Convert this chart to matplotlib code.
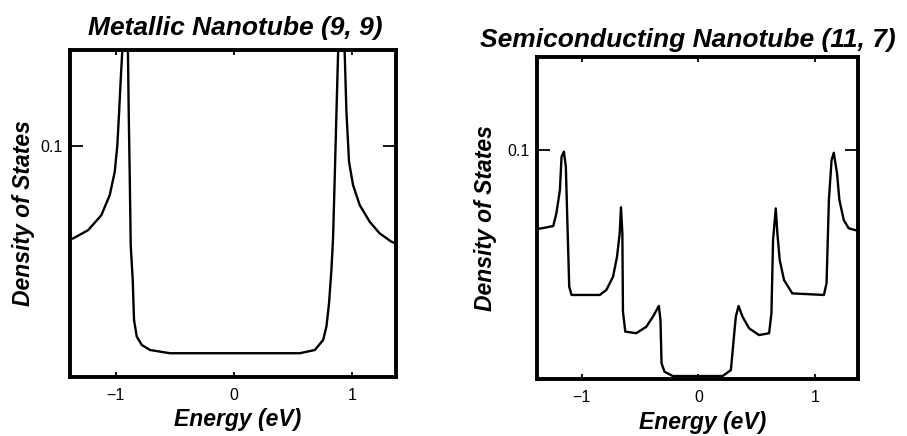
import matplotlib
matplotlib.use("Agg")
import matplotlib.pyplot as plt

# Density of states curves
metal_energy = [-1.385, -1.359, -1.232, -1.12, -1.049, -1.007, -0.985, -0.970, -0.956, -0.945,
                -0.92,
                -0.895, -0.889, -0.880, -0.872, -0.855, -0.844, -0.821, -0.779, -0.709, -0.54,
                0.557, 0.684, 0.754, 0.782, 0.804, 0.824, 0.838, 0.852, 0.867, 0.88,
                0.908,
                0.937, 0.951, 0.973, 1.007, 1.063, 1.148, 1.232, 1.331, 1.37]
metal_dos = [0.0597, 0.060, 0.0636, 0.0701, 0.0788, 0.0889, 0.1004, 0.1149, 0.1293, 0.1394,
             0.17,
             0.1394, 0.1149, 0.086, 0.0571, 0.042, 0.0247, 0.0175, 0.0139, 0.0117, 0.0103,
             0.0103, 0.0117, 0.016, 0.0218, 0.0319, 0.0463, 0.060, 0.086, 0.1149, 0.1394,
             0.17,
             0.1394, 0.1149, 0.0932, 0.0831, 0.0745, 0.0672, 0.0622, 0.0586, 0.0578]

semi_energy = [-1.385, -1.345, -1.245, -1.218, -1.188, -1.174, -1.154, -1.137, -1.126, -1.108,
               -1.088, -0.846, -0.789, -0.732, -0.698, -0.675, -0.664, -0.652, -0.647,
               -0.627, -0.533, -0.447, -0.39, -0.339, -0.325, -0.316, -0.291, -0.22,
               0.208, 0.279, 0.308, 0.322, 0.345, 0.379, 0.436, 0.521, 0.607, 0.627,
               0.641, 0.664, 0.678, 0.698, 0.735, 0.806, 1.077, 1.10, 1.12, 1.143,
               1.162, 1.19, 1.21, 1.248, 1.29, 1.348, 1.36]
semi_dos = [0.0655, 0.0658, 0.0668, 0.0724, 0.0825, 0.097, 0.0993, 0.0927, 0.0724, 0.0403,
            0.0367, 0.0367, 0.0389, 0.0447, 0.0534, 0.0636, 0.075, 0.0636, 0.0294,
            0.0207, 0.020, 0.0228, 0.0272, 0.0319, 0.0258, 0.0069, 0.0032, 0.0013,
            0.0013, 0.0039, 0.020, 0.0274, 0.0319, 0.0272, 0.0221, 0.0192, 0.020, 0.0287,
            0.0607, 0.0745, 0.0636, 0.052, 0.0432, 0.0374, 0.0367, 0.0418, 0.0782, 0.0956,
            0.0988, 0.0898, 0.0782, 0.0694, 0.0658, 0.065, 0.065]

xticks = [-1, 0, 1]
xtick_labels = ["\u22121", "0", "1"]
yticks = [0.1]
ytick_labels = ["0.1"]

titles = ["Metallic Nanotube (9, 9)", "Semiconducting Nanotube (11, 7)"]

plt.rcParams['font.family'] = ['Liberation Sans', 'DejaVu Sans']

fig = plt.figure(figsize=(9.07, 4.36), dpi=100)
ax1 = fig.add_axes([0.0772, 0.1353, 0.3594, 0.750])
ax2 = fig.add_axes([0.592, 0.1307, 0.354, 0.7385])

label_font = dict(fontsize=16.5, fontweight='bold', fontstyle='italic')


def style_axes(ax, ylim_top, ylab_x, xlab_y):
    ax.set_xlim(-1.385, 1.37)
    ax.set_ylim(0, ylim_top)
    for s in ax.spines.values():
        s.set_linewidth(2.8)
    ax.set_xticks(xticks)
    ax.set_xticklabels(xtick_labels)
    ax.set_yticks(yticks)
    ax.set_yticklabels(ytick_labels)
    ax.tick_params(axis='x', direction='in', length=3.6, width=1.3,
                   top=True, labelsize=11.5, pad=8)
    ax.tick_params(axis='y', direction='in', length=9.5, width=1.3,
                   right=True, labelsize=11.5, pad=5)
    ax.set_ylabel("Density of States", **label_font)
    ax.set_xlabel("Energy (eV)", **label_font)
    ax.yaxis.set_label_coords(ylab_x, 0.5)
    ax.xaxis.set_label_coords(0.515, xlab_y)


ax1.plot(metal_energy, metal_dos, color='black', lw=1.7)
style_axes(ax1, 0.1416, -0.107, -0.095)

ax2.plot(semi_energy, semi_dos, color='black', lw=1.7)
style_axes(ax2, 0.1406, -0.125, -0.10)

fig.text(0.259, 0.935, titles[0], ha='center', va='center', **{**label_font, 'fontsize': 19})
fig.text(0.7585, 0.908, titles[1], ha='center', va='center', **{**label_font, 'fontsize': 19})

fig.savefig("out.png", dpi=100, facecolor='white')
